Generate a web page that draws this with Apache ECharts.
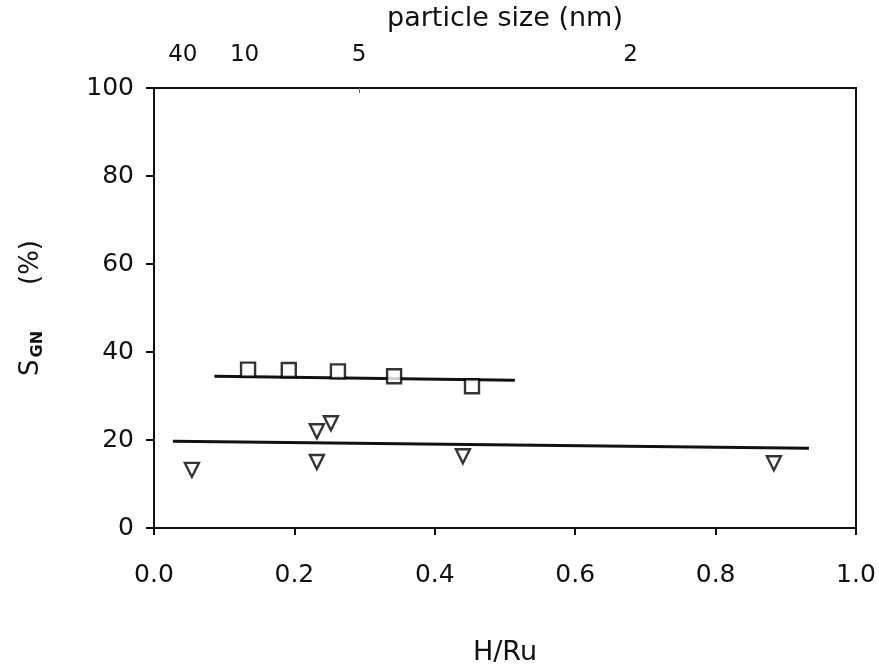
<!DOCTYPE html>
<html>
<head>
<meta charset="utf-8">
<style>
  html, body { margin: 0; padding: 0; background: #fff; }
  #chart { width: 879px; height: 666px; }
</style>
<script src="https://cdn.jsdelivr.net/npm/echarts@6/dist/echarts.min.js"></script>
</head>
<body>
<div id="chart"></div>
<script>
// squares (upper set)
const squareX = [0.134, 0.192, 0.262, 0.342, 0.453]
const squareY = [36.0, 35.9, 35.6, 34.5, 32.2]
// triangles (lower set)
const triX = [0.054, 0.232, 0.252, 0.232, 0.440, 0.883]
const triY = [13.2, 22.0, 23.8, 15.0, 16.3, 14.7]
// fitted lines
const upperFitX = [0.086, 0.514]
const upperFitY = [34.5, 33.6]
const lowerFitX = [0.027, 0.933]
const lowerFitY = [19.7, 18.1]
// top axis: particle size
const sizeTickPos = [0.041, 0.129, 0.292, 0.679]
const sizeTickLabels = ['40', '10', '5', '2']

const font = 'DejaVu Sans, Verdana, sans-serif'
const pairs = (xs, ys) => xs.map((x, i) => [x, ys[i]])

const chart = echarts.init(document.getElementById('chart'))
chart.setOption({
  backgroundColor: '#fff',
  animation: false,
  grid: {
    left: 154, right: 23, top: 88, bottom: 138,
    outerBoundsMode: 'none', containLabel: false,
    show: true, borderColor: '#111', borderWidth: 2
  },
  xAxis: [
    {
      type: 'value', min: 0, max: 1, interval: 0.2,
      name: 'H/Ru', nameLocation: 'middle', nameGap: 111,
      nameTextStyle: { fontFamily: font, fontSize: 27, color: '#111' },
      axisLine: { lineStyle: { color: '#111', width: 2 } },
      axisTick: { length: 7, lineStyle: { color: '#111', width: 2 } },
      axisLabel: {
        margin: 35, fontFamily: font, fontSize: 25, color: '#111',
        formatter: v => v.toFixed(1)
      },
      splitLine: { show: false }
    },
    {
      type: 'value', min: 0, max: 1, position: 'top',
      name: 'particle size (nm)', nameLocation: 'middle', nameGap: 56,
      nameTextStyle: { fontFamily: font, fontSize: 27, color: '#111' },
      axisLine: { lineStyle: { color: '#111', width: 2 } },
      axisTick: { show: true, inside: true, length: 5, customValues: [0.292], lineStyle: { color: '#666', width: 1 } },
      axisLabel: {
        margin: 21, fontFamily: font, fontSize: 23, color: '#111',
        customValues: sizeTickPos,
        formatter: v => sizeTickLabels[sizeTickPos.indexOf(v)] || ''
      },
      splitLine: { show: false }
    }
  ],
  yAxis: {
    type: 'value', min: 0, max: 100, interval: 20,
    name: '{s|S}{sub|GN}{gap|}{s|(%)}', nameLocation: 'middle', nameGap: 108,
    nameTextStyle: {
      fontFamily: font, fontSize: 25, color: '#111',
      rich: {
        s: { fontFamily: font, fontSize: 26, color: '#111' },
        sub: { fontFamily: font, fontSize: 16, fontWeight: 'bold', color: '#111', padding: [14, 0, 0, 2] },
        gap: { width: 46 }
      }
    },
    axisLine: { lineStyle: { color: '#111', width: 2 } },
    axisTick: { length: 8, lineStyle: { color: '#111', width: 2 } },
    axisLabel: { margin: 20, fontFamily: font, fontSize: 25, color: '#111' },
    splitLine: { show: false }
  },
  series: [
    {
      type: 'line', data: pairs(upperFitX, upperFitY), symbol: 'none',
      lineStyle: { color: '#111', width: 3 }, z: 2
    },
    {
      type: 'line', data: pairs(lowerFitX, lowerFitY), symbol: 'none',
      lineStyle: { color: '#111', width: 3 }, z: 2
    },
    {
      type: 'scatter', data: pairs(squareX, squareY), symbol: 'rect', symbolSize: 14,
      itemStyle: { color: '#fff', borderColor: '#000', borderWidth: 2.4 }, z: 3
    },
    {
      type: 'scatter', data: pairs(triX, triY), symbol: 'triangle', symbolRotate: 180, symbolSize: 14,
      itemStyle: { color: '#fff', borderColor: '#000', borderWidth: 2.4 }, z: 3
    }
  ]
})
</script>
</body>
</html>
